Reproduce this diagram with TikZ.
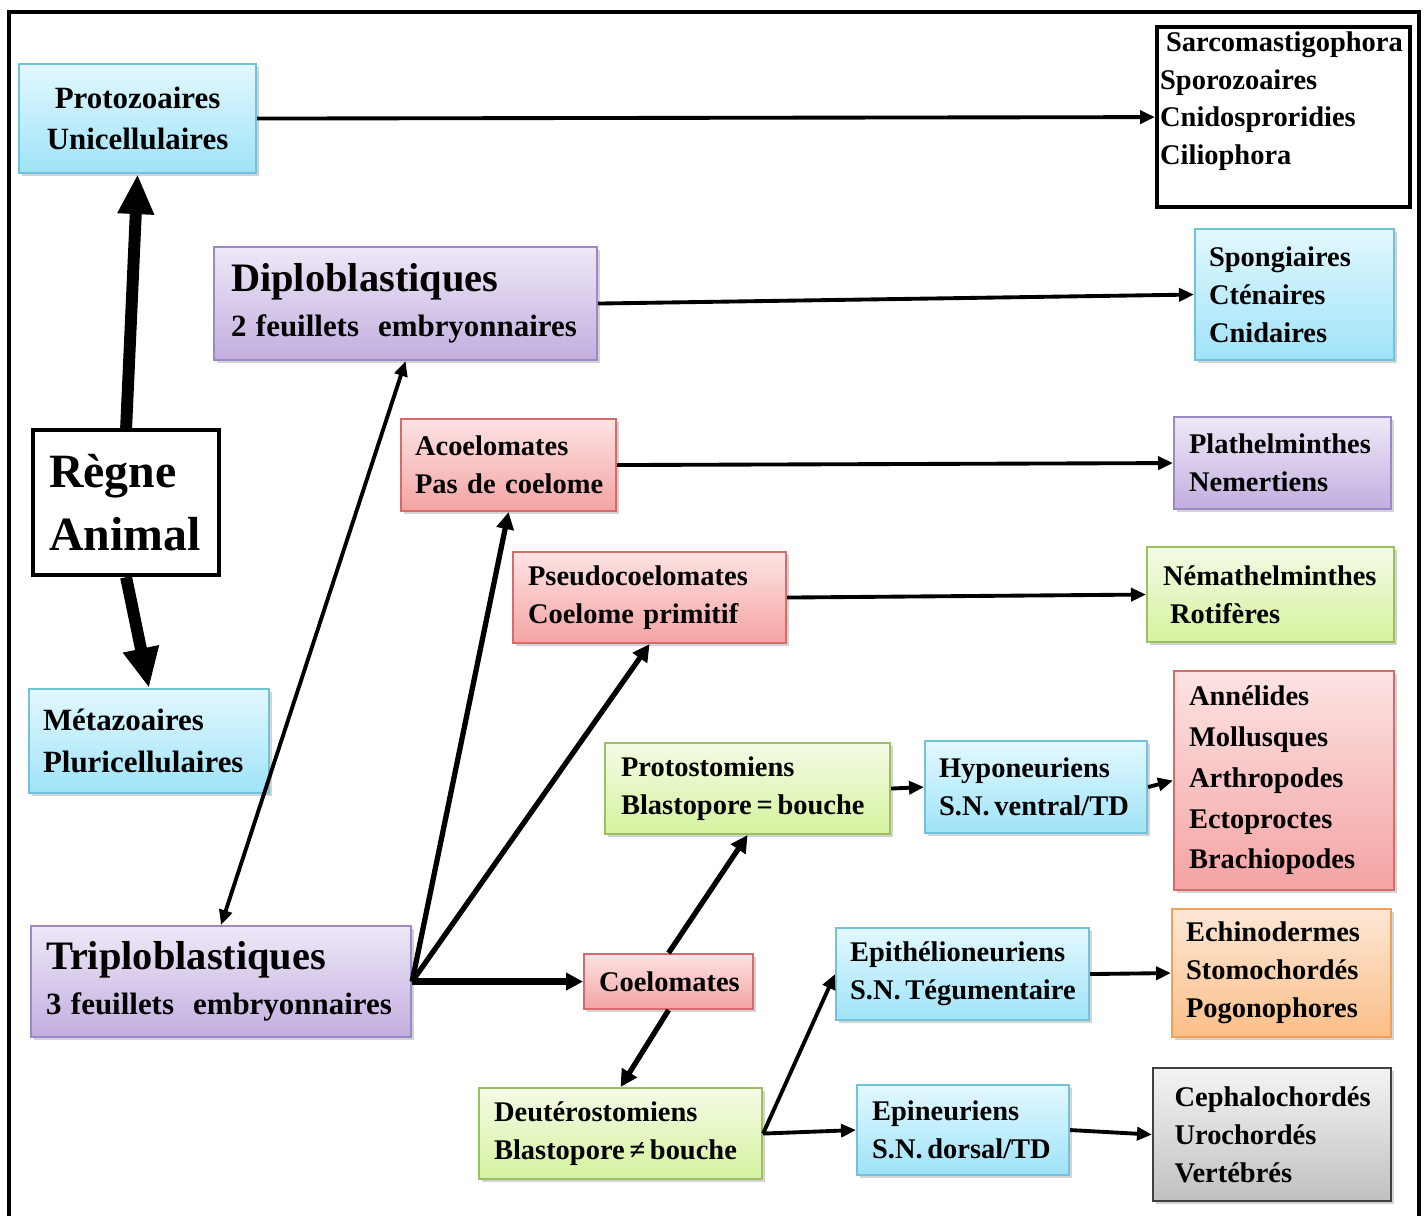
\documentclass[tikz,border=0pt]{standalone}
\usepackage{fontspec}
\setmainfont{Liberation Serif}
\usetikzlibrary{arrows.meta, positioning, shadows}

\definecolor{blueT}{HTML}{E3F8FE}
\definecolor{blueB}{HTML}{9FE3F8}
\definecolor{blueD}{HTML}{72C3DA}
\definecolor{purT}{HTML}{EEE8F7}
\definecolor{purB}{HTML}{C2AEDF}
\definecolor{purD}{HTML}{9C89C4}
\definecolor{redT}{HTML}{FDE3E3}
\definecolor{redB}{HTML}{F4A3A3}
\definecolor{redD}{HTML}{D66B6B}
\definecolor{greT}{HTML}{F4FBE6}
\definecolor{greB}{HTML}{D5F29E}
\definecolor{greD}{HTML}{9DBF63}
\definecolor{oraT}{HTML}{FDE7D5}
\definecolor{oraB}{HTML}{FBBF88}
\definecolor{oraD}{HTML}{F1A059}
\definecolor{graT}{HTML}{F4F4F4}
\definecolor{graB}{HTML}{C0C0C0}
\definecolor{graD}{HTML}{3F3F3F}

\begin{document}
\begin{tikzpicture}[
    box/.style={draw, rectangle, anchor=north west, align=left, inner xsep=0.15cm, inner ysep=0.03cm,
        line width=0.6pt, font=\fontsize{8.1}{10.8}\selectfont\bfseries,
        drop shadow={opacity=0.35, shadow xshift=0.03cm, shadow yshift=-0.03cm}},
    plain/.style={draw=black, fill=white, rectangle, anchor=north west, align=left, line width=1.2pt,
        font=\fontsize{8.1}{10.8}\selectfont\bfseries},
    Bl/.style={box, top color=blueT, bottom color=blueB, draw=blueD},
    Pu/.style={box, top color=purT, bottom color=purB, draw=purD},
    Re/.style={box, top color=redT, bottom color=redB, draw=redD},
    Gr/.style={box, top color=greT, bottom color=greB, draw=greD},
    Or/.style={box, top color=oraT, bottom color=oraB, draw=oraD},
    Gy/.style={box, top color=graT, bottom color=graB, draw=graD},
    med/.style={font=\fontsize{8.8}{11.8}\selectfont\bfseries},
    conn/.style={line width=1.1pt, -{Triangle[length=0.15cm, width=0.13cm]}},
    mid/.style={line width=1.5pt, -{Triangle[length=0.17cm, width=0.17cm]}},
    fat/.style={line width=3.4pt, -{Triangle[length=0.4cm, width=0.34cm]}}]

    \useasboundingbox (0,0) rectangle (14.26,-12.16);
    \draw[line width=1.2pt] (0.09,-12.4) -- (0.09,-0.12) -- (14.19,-0.12) -- (14.19,-12.4);

    \node[Bl, med, align=center, text width=2.07cm, minimum height=1.09cm] (proto) at (0.18,-0.63) {Protozoaires\\Unicellulaires};
    \node[plain, inner xsep=0.03cm, inner ysep=0.04cm, text width=2.47cm, minimum height=1.80cm] (sarco) at (11.55,-0.25)
        {\hspace{0.06cm}Sarcomastigophora\\Sporozoaires\\Cnidosproridies\\Ciliophora\\\mbox{}};
    \node[Pu, inner xsep=0.17cm, inner ysep=0.07cm, text width=3.49cm, minimum height=1.13cm] (diplo) at (2.13,-2.46)
        {{\fontsize{11.5}{14}\selectfont Diploblastiques}\\[2pt]{\fontsize{8.8}{11}\selectfont 2 feuillets\ \ embryonnaires}};
    \node[Bl, inner xsep=0.14cm, text width=1.71cm, minimum height=1.31cm] (spong) at (11.94,-2.28) {Spongiaires\\Cténaires\\Cnidaires};
    \node[plain, inner xsep=0.16cm, text width=1.54cm, minimum height=1.45cm,
        font=\fontsize{13.6}{17.9}\selectfont\bfseries] (regne) at (0.31,-4.28) {Règne\\Animal};
    \node[Re, inner xsep=0.14cm, text width=1.87cm, minimum height=0.92cm] (acoel) at (4.00,-4.18) {Acoelomates\\\mbox{Pas de coelome}};
    \node[Pu, text width=1.87cm, minimum height=0.92cm] (plath) at (11.73,-4.16) {Plathelminthes\\Nemertiens};
    \node[Re, text width=2.43cm, minimum height=0.91cm] (pseudo) at (5.12,-5.51) {Pseudocoelomates\\Coelome primitif};
    \node[Gr, inner xsep=0.16cm, text width=2.15cm, minimum height=0.95cm] (nemat) at (11.46,-5.46)
        {Némathelminthes\\\hspace{0.07cm}Rotifères};
    \node[Bl, med, inner xsep=0.14cm, text width=2.12cm, minimum height=1.04cm] (meta) at (0.28,-6.88) {Métazoaires\\Pluricellulaires};
    \node[Gr, inner xsep=0.16cm, text width=2.53cm, minimum height=0.91cm] (protost) at (6.04,-7.42)
        {Protostomiens\\Blastopore\,=\,bouche};
    \node[Bl, inner xsep=0.14cm, text width=1.94cm, minimum height=0.92cm] (hypo) at (9.24,-7.40) {Hyponeuriens\\S.N.\,ventral/TD};
    \node[Re, text width=1.90cm, minimum height=2.19cm, font=\fontsize{8.1}{11.6}\selectfont\bfseries] (annel) at (11.73,-6.70)
        {Annélides\\Mollusques\\Arthropodes\\Ectoproctes\\Brachiopodes};
    \node[Pu, inner ysep=0.07cm, text width=3.50cm, minimum height=1.11cm] (triplo) at (0.30,-9.25)
        {{\fontsize{11.5}{14}\selectfont Triploblastiques}\\[2pt]{\fontsize{8.8}{11}\selectfont 3 feuillets\ \ embryonnaires}};
    \node[Re, align=center, text width=1.39cm, minimum height=0.55cm] (coelo) at (5.83,-9.53) {Coelomates};
    \node[Bl, inner xsep=0.14cm, text width=2.25cm, minimum height=0.92cm] (epith) at (8.35,-9.27)
        {Epithélioneuriens\\S.N.\,Tégumentaire};
    \node[Or, inner xsep=0.14cm, text width=1.91cm, minimum height=1.28cm] (echino) at (11.71,-9.08)
        {Echinodermes\\Stomochordés\\Pogonophores};
    \node[Gr, text width=2.53cm, minimum height=0.91cm] (deuter) at (4.78,-10.87) {Deutérostomiens\\Blastopore\,≠\,bouche};
    \node[Bl, text width=1.82cm, minimum height=0.90cm] (epin) at (8.56,-10.84) {Epineuriens\\S.N.\,dorsal/TD};
    \node[Gy, inner xsep=0.215cm, text width=1.95cm, minimum height=1.33cm] (cephalo) at (11.52,-10.67)
        {Cephalochordés\\Urochordés\\Vertébrés};

    \draw[conn] (proto.east) -- (sarco.west);
    \draw[fat] (regne.north) -- (proto.south);
    \draw[fat] (regne.south) -- (meta.north);
    \draw[conn] (diplo.east) -- (spong.west);
    \draw[line width=1.1pt, {Triangle[length=0.15cm, width=0.13cm]}-{Triangle[length=0.15cm, width=0.13cm]}] (triplo.north) -- (diplo.south);
    \draw[mid] (triplo.east) -- (acoel.south);
    \draw[mid] (triplo.east) -- (pseudo.south);
    \draw[mid, line width=1.8pt] (triplo.east) -- (coelo.west);
    \draw[conn] (acoel.east) -- (plath.west);
    \draw[conn] (pseudo.east) -- (nemat.west);
    \draw[mid] (coelo.north) -- (protost.south);
    \draw[mid] (coelo.south) -- (deuter.north);
    \draw[conn] (protost.east) -- (hypo.west);
    \draw[conn] (hypo.east) -- (annel.west);
    \draw[conn] (deuter.east) -- (epith.west);
    \draw[conn] (deuter.east) -- (epin.west);
    \draw[conn] (epith.east) -- (echino.west);
    \draw[conn] (epin.east) -- (cephalo.west);
\end{tikzpicture}
\end{document}
